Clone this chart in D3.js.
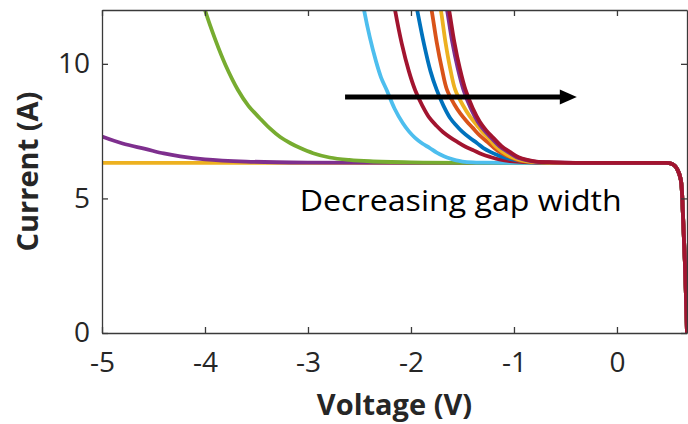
<!DOCTYPE html>
<html><head><meta charset="utf-8">
<script src="https://cdn.jsdelivr.net/npm/d3@7"></script>
<style>body{margin:0;background:#fff}svg{display:block}</style>
</head><body>
<svg id="chart" width="688" height="424"></svg>
<script>
// ---- data ----
const xTicks = [-5, -4, -3, -2, -1, 0];
const yTicks = [0, 5, 10];
const xDomain = [-5, 0.68];
const yDomain = [0, 12];

// common plateau + forward-bias drop (shared by all curves)
const tailV = [0.30, 0.45, 0.51, 0.56, 0.59, 0.62, 0.64, 0.66, 0.68];
const tailI = [6.32, 6.32, 6.31, 6.22, 6.05, 5.69, 4.46, 2.60, 0.0];

// reverse breakdown branches, one per gap width
const flatV    = [-5.0, 0.0];
const flatI    = [6.32, 6.32];
const purpleAV = [-5.0, -4.8, -4.58, -4.4, -4.24, -4.0, -3.6, -3.0, -2.0];
const purpleAI = [7.30, 7.04, 6.84, 6.67, 6.56, 6.45, 6.37, 6.33, 6.32];
const greenV   = [-4.05, -4.0, -3.9, -3.8, -3.68, -3.58, -3.47, -3.37, -3.27, -3.17, -3.08, -2.95, -2.79, -2.6, -2.4, -2.0, -1.5];
const greenI   = [12.7, 12.0, 10.9, 9.95, 9.03, 8.45, 7.99, 7.60, 7.28, 7.05, 6.88, 6.68, 6.52, 6.43, 6.38, 6.34, 6.32];
const lblueV   = [-2.50, -2.456, -2.40, -2.34, -2.29, -2.236, -2.16, -2.08, -2.02, -1.96, -1.89, -1.82, -1.75, -1.68, -1.62, -1.56, -1.50, -1.40, -1.3, -1.0];
const lblueI   = [12.95, 12.0, 10.99, 10.10, 9.49, 9.03, 8.34, 7.80, 7.49, 7.25, 7.04, 6.88, 6.70, 6.57, 6.48, 6.41, 6.37, 6.34, 6.33, 6.32];
const redAV    = [-2.19, -2.155, -2.09, -2.02, -1.96, -1.89, -1.82, -1.755, -1.69, -1.62, -1.55, -1.475, -1.40, -1.31, -1.23, -1.13, -1.04, -0.9, -0.7, -0.5];
const redAI    = [12.8, 12.0, 10.76, 9.72, 9.03, 8.45, 7.99, 7.71, 7.47, 7.27, 7.10, 6.93, 6.80, 6.64, 6.54, 6.44, 6.39, 6.35, 6.33, 6.32];
const blueV    = [-1.98, -1.94, -1.875, -1.81, -1.75, -1.685, -1.62, -1.56, -1.50, -1.43, -1.36, -1.30, -1.23, -1.14, -1.04, -0.95, -0.85, -0.7, -0.4];
const blueI    = [12.8, 12.0, 10.76, 9.72, 9.03, 8.45, 7.99, 7.71, 7.47, 7.25, 7.06, 6.88, 6.73, 6.58, 6.47, 6.40, 6.36, 6.33, 6.32];
const orangeV  = [-1.84, -1.80, -1.75, -1.70, -1.65, -1.58, -1.52, -1.46, -1.40, -1.33, -1.26, -1.20, -1.14, -1.06, -0.97, -0.88, -0.75, -0.5];
const orangeI  = [12.8, 12.0, 10.8, 9.82, 9.03, 8.50, 8.15, 7.87, 7.62, 7.33, 7.10, 6.90, 6.73, 6.57, 6.43, 6.37, 6.34, 6.32];
const yellowV  = [-1.75, -1.71, -1.665, -1.62, -1.57, -1.50, -1.43, -1.36, -1.305, -1.25, -1.18, -1.11, -1.03, -0.94, -0.85, -0.7, -0.45];
const yellowI  = [12.8, 12.0, 10.8, 9.84, 9.03, 8.49, 8.06, 7.72, 7.46, 7.25, 6.94, 6.73, 6.55, 6.43, 6.37, 6.34, 6.32];
const purpleBV = [-1.69, -1.65, -1.60, -1.545, -1.49, -1.42, -1.35, -1.285, -1.22, -1.14, -1.06, -0.975, -0.89, -0.80, -0.64, -0.42];
const purpleBI = [12.8, 12.0, 10.83, 9.82, 9.03, 8.35, 7.84, 7.51, 7.25, 6.94, 6.73, 6.53, 6.43, 6.37, 6.34, 6.32];
const redBV    = [-1.67, -1.63, -1.58, -1.525, -1.47, -1.40, -1.33, -1.265, -1.20, -1.12, -1.04, -0.955, -0.87, -0.78, -0.62, -0.40];
const redBI    = [12.8, 12.0, 10.83, 9.82, 9.03, 8.35, 7.84, 7.51, 7.25, 6.94, 6.73, 6.53, 6.43, 6.37, 6.34, 6.32];

const curveColors = ["#EDB120", "#7E2F8E", "#77AC30", "#4DBEEE", "#A2142F",
                     "#0072BD", "#D95319", "#EDB120", "#7E2F8E", "#A2142F"];
const curveV = [flatV, purpleAV, greenV, lblueV, redAV, blueV, orangeV, yellowV, purpleBV, redBV];
const curveI = [flatI, purpleAI, greenI, lblueI, redAI, blueI, orangeI, yellowI, purpleBI, redBI];

const arrowFrom = [-2.64, 8.77];
const arrowTo   = [-0.39, 8.77];
const annotText = "Decreasing gap width";
const annotPos  = [-3.08, 4.55];

const xLabel = "Voltage (V)";
const yLabel = "Current (A)";

// ---- layout ----
const L = 102, R = 687, T = 10, B = 333;
const svg = d3.select("#chart");
const x = d3.scaleLinear().domain(xDomain).range([L, R]);
const y = d3.scaleLinear().domain(yDomain).range([B, T]);
const font = "'Open Sans', 'Noto Sans', sans-serif";
const axisColor = "#3a3a3a";

svg.append("defs").append("clipPath").attr("id", "clip")
  .append("rect").attr("x", L).attr("y", T).attr("width", R - L).attr("height", B - T);

// curves
const line = d3.line().x(d => x(d[0])).y(d => y(d[1])).curve(d3.curveCatmullRom.alpha(0.5));
const g = svg.append("g").attr("clip-path", "url(#clip)");
curveV.forEach((vs, k) => {
  const pts = vs.map((v, j) => [v, curveI[k][j]]).concat(tailV.map((v, j) => [v, tailI[j]]));
  g.append("path").attr("d", line(pts)).attr("fill", "none")
    .attr("stroke", curveColors[k]).attr("stroke-width", 3.8)
    .attr("stroke-linejoin", "round");
});

// axes (ticks inward, box)
function styleAxis(sel) {
  sel.select(".domain").attr("stroke", axisColor).attr("stroke-width", 1.3);
  sel.selectAll(".tick line").attr("stroke", axisColor).attr("stroke-width", 1.3);
  sel.selectAll("text").attr("fill", "#262626").style("font-family", font).style("font-size", "28px");
}
svg.append("g").attr("transform", `translate(0,${B})`)
  .call(d3.axisBottom(x).tickValues(xTicks).tickSizeInner(-6).tickSizeOuter(0).tickPadding(19)
    .tickFormat(d => d3.format("")(d).replace("−", "-")))
  .call(styleAxis);
svg.append("g").attr("transform", `translate(${L},0)`)
  .call(d3.axisLeft(y).tickValues(yTicks).tickSizeInner(-6).tickSizeOuter(0).tickPadding(12))
  .call(styleAxis);
svg.append("g").attr("transform", `translate(0,${T})`)
  .call(d3.axisTop(x).tickValues(xTicks).tickSizeInner(-6).tickSizeOuter(0).tickFormat(""))
  .call(styleAxis);
svg.append("g").attr("transform", `translate(${R},0)`)
  .call(d3.axisRight(y).tickValues(yTicks).tickSizeInner(-6).tickSizeOuter(0).tickFormat(""))
  .call(styleAxis);

// axis titles
svg.append("text").attr("x", (L + R) / 2).attr("y", 415).attr("text-anchor", "middle")
  .style("font-family", font).style("font-size", "29px").style("font-weight", "bold")
  .attr("fill", "#262626").text(xLabel);
svg.append("text").attr("transform", `translate(38,${(T + B) / 2}) rotate(-90)`)
  .attr("text-anchor", "middle")
  .style("font-family", font).style("font-size", "29px").style("font-weight", "bold")
  .attr("fill", "#262626").text(yLabel);

// annotation arrow
const ay = y(arrowFrom[1]);
const headLen = 17, headHalf = 7.5;
svg.append("line").attr("x1", x(arrowFrom[0])).attr("y1", ay)
  .attr("x2", x(arrowTo[0]) - headLen + 1).attr("y2", ay)
  .attr("stroke", "#000").attr("stroke-width", 5);
svg.append("polygon")
  .attr("points", [[x(arrowTo[0]) - headLen, ay - headHalf], [x(arrowTo[0]), ay], [x(arrowTo[0]) - headLen, ay + headHalf]].map(p => p.join(",")).join(" "))
  .attr("fill", "#000");

svg.append("text").attr("x", x(annotPos[0])).attr("y", y(annotPos[1]))
  .attr("textLength", 322).attr("lengthAdjust", "spacingAndGlyphs")
  .style("font-family", font).style("font-size", "29px").attr("fill", "#000")
  .text(annotText);
</script>
</body></html>
